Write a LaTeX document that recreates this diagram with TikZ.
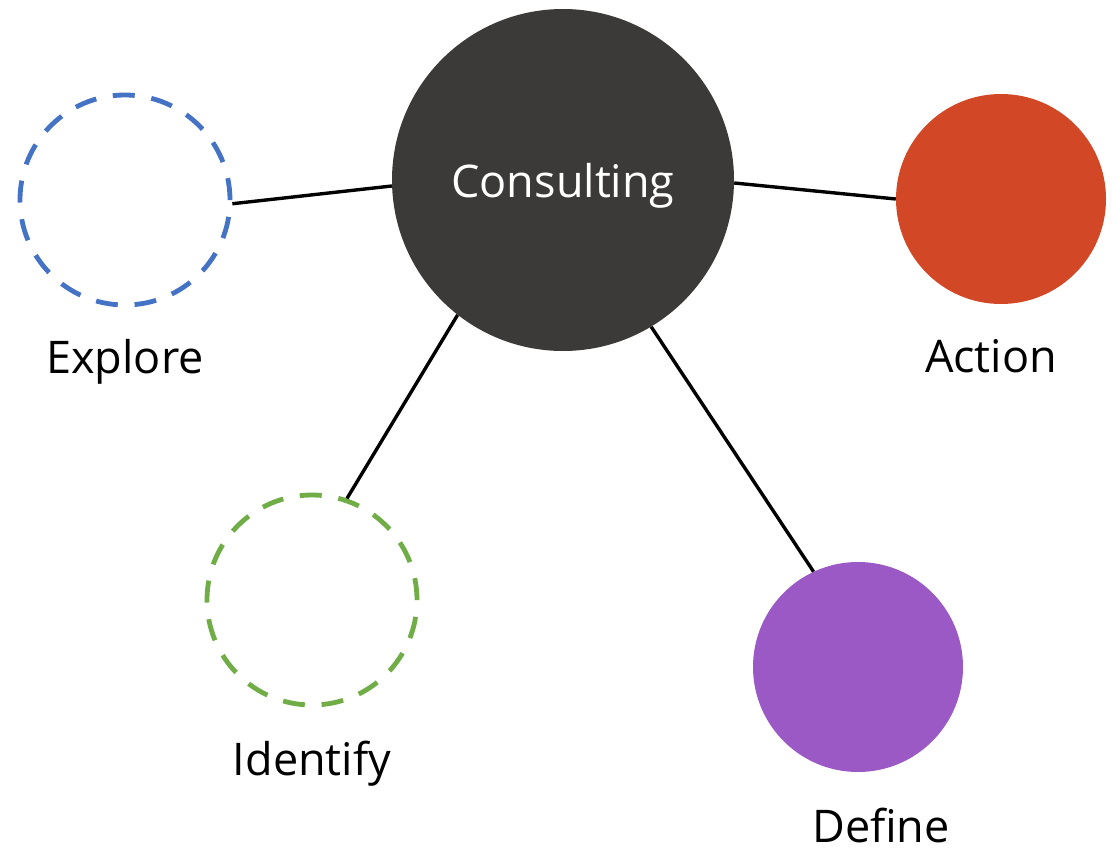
\documentclass[tikz,border=0pt]{standalone}
\usepackage{fontspec}
\setmainfont{Open Sans}
\usepackage{tikz}
\usetikzlibrary{positioning}
\usepackage{xcolor}
\definecolor{hubgray}{HTML}{3B3A38}
\definecolor{actionred}{HTML}{D24726}
\definecolor{definepurple}{HTML}{9B59C5}
\definecolor{exploreblue}{HTML}{4472C4}
\definecolor{identifygreen}{HTML}{70AD47}
\tikzset{
  % Common styles for the diagram
  every node/.style={font=\fontsize{45}{54}\selectfont},
  line/.style={draw, line width=3.4pt},
  hub/.style={circle, fill=hubgray, text=white, minimum size=342pt, inner sep=0pt, text depth=0pt},
  fullcircle/.style={circle, fill=#1, minimum size=210pt, inner sep=0pt},
  dashcircle/.style={circle, draw=#1, line width=4.8pt, dash pattern=on 22pt off 16.8pt, minimum size=210pt, inner sep=0pt},
  lbl/.style={inner sep=0pt}
}

\begin{document}
\begin{tikzpicture}[x=1pt, y=-1pt]
    \useasboundingbox (0,0) rectangle (1119,851);

    % Place nodes
    \node [hub] (consulting) at (563,180) {Consulting};
    \node [dashcircle=exploreblue] (explore) at (125,200) {};
    \node [fullcircle=actionred] (action) at (1001,199) {};
    \node [dashcircle=identifygreen] (identify) at (312,600) {};
    \node [fullcircle=definepurple] (define) at (858,667) {};

    % Labels
    \node [lbl, below=32pt of explore] (explorelbl) {Explore};
    \node [lbl, below=35pt of action, xshift=-10pt] (actionlbl) {Action};
    \node [lbl, below=33pt of identify] (identifylbl) {Identify};
    \node [lbl, below=36pt of define, xshift=23pt] (definelbl) {Define};

    % Draw edges
    \path [line] (explore.-2) -- (consulting.182);
    \path [line] (consulting.-1) -- (action.180);
    \path [line] (consulting.232) -- (identify.71);
    \path [line] (consulting.301) -- (define.115);
\end{tikzpicture}
\end{document}
